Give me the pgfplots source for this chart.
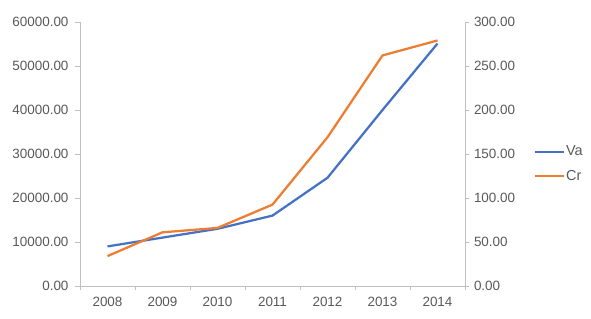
\documentclass[border=0pt]{standalone}
\usepackage{pgfplots}
\pgfplotsset{compat=1.18}
\usepackage{fontspec}
\setmainfont{Liberation Sans}
\definecolor{vablue}{HTML}{4472C4}
\definecolor{crorange}{HTML}{ED7D31}
\definecolor{axgray}{HTML}{BFBFBF}
\definecolor{txtgray}{HTML}{595959}
\pgfplotsset{
  common/.style={
    at={(80bp,33bp)}, anchor=south west,
    width=385bp, height=264bp, scale only axis,
    xmin=-0.5, xmax=6.5, ymin=0,
    axis line style={axgray, line width=0.75bp, -},
    tick style={axgray, line width=0.75bp},
    tick align=outside,
    major tick length=4.5bp,
    tick label style={font=\fontsize{13.5}{16}\selectfont, text=txtgray},
    scaled y ticks=false,
    yticklabel style={/pgf/number format/fixed, /pgf/number format/fixed zerofill,
      /pgf/number format/precision=2, /pgf/number format/1000 sep={},
      /pgf/number format/assume math mode=true},
    clip=false,
  }
}
\begin{document}
\begin{tikzpicture}
\path[use as bounding box] (0,0) rectangle (591bp,319bp);
\begin{axis}[common,
  axis x line*=bottom, axis y line*=left,
  ymax=60000, ytick={0,10000,20000,30000,40000,50000,60000},
  yticklabel style={xshift=-3.5bp},
  xtick={-0.5,0.5,1.5,2.5,3.5,4.5,5.5,6.5},
  xticklabels={2008,2009,2010,2011,2012,2013,2014},
  xticklabel style={yshift=-3bp},
  x tick label as interval]
\addplot[vablue, line width=2.25bp] coordinates {
  (0,9000) (1,11000) (2,13000) (3,16000) (4,24600) (5,40000) (6,55100)};
\end{axis}
\begin{axis}[common,
  axis y line*=right, axis x line=none,
  ymax=300, ytick={0,50,100,150,200,250,300},
  yticklabel style={xshift=1bp},
  legend style={at={(1.179,0.463)}, anchor=west, draw=none, fill=none,
    font=\fontsize{14.5}{17}\selectfont, text=txtgray, inner sep=0pt,
    row sep=11bp, column sep=0bp, nodes={inner sep=0.8bp}},
  legend cell align=left,
  legend image code/.code={\draw[#1] (0bp,0bp) -- (29bp,0bp);}]
\addlegendimage{vablue, line width=2.25bp}
\addlegendentry{Va}
\addplot[crorange, line width=2.25bp] coordinates {
  (0,34) (1,61) (2,66) (3,92.5) (4,169) (5,262) (6,279)};
\addlegendentry{Cr}
\end{axis}
\end{tikzpicture}
\end{document}
